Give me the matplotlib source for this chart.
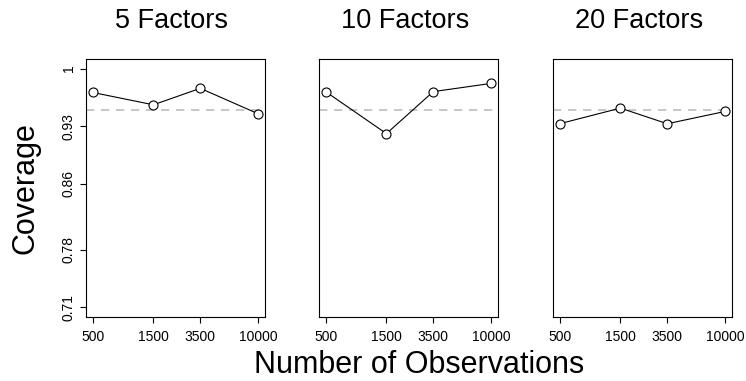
import numpy as np
import matplotlib
matplotlib.use("Agg")
import matplotlib.pyplot as plt

plt.rcParams['font.family'] = ['Liberation Sans', 'DejaVu Sans']

# data
panel_titles = ['5 Factors', '10 Factors', '20 Factors']
n_obs = [500, 1500, 3500, 10000]
n_obs_labels = ['500', '1500', '3500', '10000']
coverage_5 = [0.971, 0.956, 0.976, 0.945]
coverage_10 = [0.972, 0.921, 0.972, 0.982]
coverage_20 = [0.933, 0.952, 0.933, 0.948]
nominal = 0.95
y_ticks = [0.71, 0.78, 0.86, 0.93, 1.0]
y_tick_labels = ['0.71', '0.78', '0.86', '0.93', '1']

series = [coverage_5, coverage_10, coverage_20]

W, H = 746, 381
fig = plt.figure(figsize=(W / 100, H / 100), dpi=100)

lefts = [86, 319, 553]
pw, top, bottom = 179, 59, 317

# R-style 4% axis padding
ylo, yhi = min(y_ticks), max(y_ticks)
ypad = 0.04 * (yhi - ylo)
lx = np.log10(n_obs)
xpad = 0.04 * (lx.max() - lx.min())

for i, (title, vals) in enumerate(zip(panel_titles, series)):
    ax = fig.add_axes([lefts[i] / W, (H - bottom) / H, pw / W, (bottom - top) / H])
    ax.set_xscale('log')
    ax.plot(n_obs, vals, color='black', lw=0.8, marker='o', markersize=6.5,
            markerfacecolor='white', markeredgecolor='black', markeredgewidth=0.8,
            zorder=3)
    ax.axhline(nominal, color='#BEBEBE', lw=1.2, linestyle=(0, (5, 4)), zorder=2)
    ax.set_xlim(10 ** (lx.min() - xpad), 10 ** (lx.max() + xpad))
    ax.set_ylim(ylo - ypad, yhi + ypad)
    ax.set_xticks(n_obs)
    ax.set_xticklabels(n_obs_labels, fontsize=10)
    ax.xaxis.set_minor_locator(matplotlib.ticker.NullLocator())
    ax.tick_params(axis='x', direction='out', length=4.5, width=0.8, pad=5)
    if i == 0:
        ax.set_yticks(y_ticks)
        ax.set_yticklabels(y_tick_labels, fontsize=10, rotation=90, va='center')
        ax.tick_params(axis='y', direction='out', length=4.5, width=0.8, pad=3)
    else:
        ax.set_yticks([])
    for sp in ax.spines.values():
        sp.set_linewidth(0.8)
        sp.set_color('black')
    ax.set_title(title, fontsize=19.5, pad=22, x=0.48)

fig.text(25 / W, 1 - 188 / H, 'Coverage', rotation=90, fontsize=22,
         ha='center', va='center')
fig.text(419 / W, 1 - 365 / H, 'Number of Observations',
         fontsize=22, ha='center', va='center')

fig.savefig('out.png', dpi=100)
